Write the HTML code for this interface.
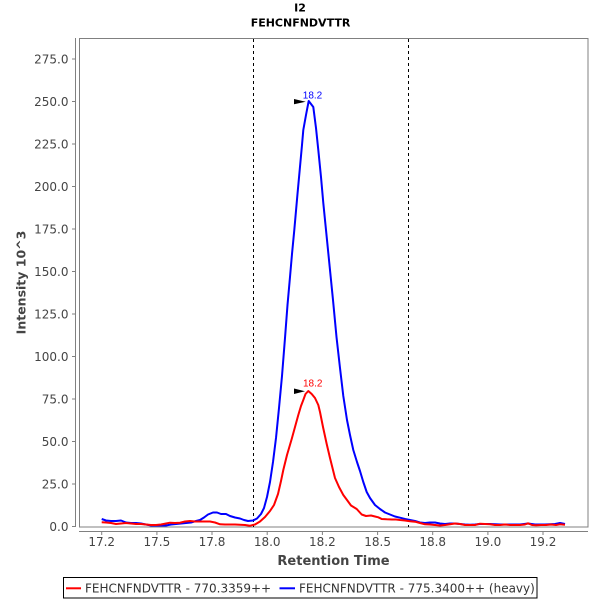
<!DOCTYPE html>
<html><head><meta charset="utf-8"><style>
html,body{margin:0;padding:0;background:#fff;}
svg{display:block;}
</style></head><body>
<svg width="600" height="600" viewBox="0 0 600 600" xmlns="http://www.w3.org/2000/svg">
<rect x="0" y="0" width="600" height="600" fill="#fff"/>
<text x="300" y="11.7" text-anchor="middle" font-family="DejaVu Sans, sans-serif" font-weight="bold" font-size="11" fill="#000">I2</text>
<text x="300.5" y="26.7" text-anchor="middle" font-family="DejaVu Sans, sans-serif" font-weight="bold" font-size="11" fill="#000">FEHCNFNDVTTR</text>
<rect x="79.5" y="38.5" width="508.5" height="488.5" fill="#fff" stroke="#808080" stroke-width="1"/>
<line x1="75.5" y1="38" x2="75.5" y2="527" stroke="#808080" stroke-width="1"/>
<line x1="79" y1="531.5" x2="588" y2="531.5" stroke="#808080" stroke-width="1"/>
<g stroke="#808080" stroke-width="1">
<line x1="72" y1="526.5" x2="75.5" y2="526.5"/>
<line x1="72" y1="484" x2="75.5" y2="484"/>
<line x1="72" y1="441.5" x2="75.5" y2="441.5"/>
<line x1="72" y1="399" x2="75.5" y2="399"/>
<line x1="72" y1="356.5" x2="75.5" y2="356.5"/>
<line x1="72" y1="314" x2="75.5" y2="314"/>
<line x1="72" y1="271.5" x2="75.5" y2="271.5"/>
<line x1="72" y1="229" x2="75.5" y2="229"/>
<line x1="72" y1="186.5" x2="75.5" y2="186.5"/>
<line x1="72" y1="144" x2="75.5" y2="144"/>
<line x1="72" y1="101.5" x2="75.5" y2="101.5"/>
<line x1="72" y1="59" x2="75.5" y2="59"/>
</g>
<g font-family="DejaVu Sans, sans-serif" font-size="12" fill="#444" text-anchor="end">
<text x="68.5" y="530.9">0.0</text>
<text x="68.5" y="488.4">25.0</text>
<text x="68.5" y="445.9">50.0</text>
<text x="68.5" y="403.4">75.0</text>
<text x="68.5" y="360.9">100.0</text>
<text x="68.5" y="318.4">125.0</text>
<text x="68.5" y="275.9">150.0</text>
<text x="68.5" y="233.4">175.0</text>
<text x="68.5" y="190.9">200.0</text>
<text x="68.5" y="148.4">225.0</text>
<text x="68.5" y="105.9">250.0</text>
<text x="68.5" y="63.4">275.0</text>
</g>
<g stroke="#808080" stroke-width="1">
<line x1="101.7" y1="531.5" x2="101.7" y2="535"/>
<line x1="156.9" y1="531.5" x2="156.9" y2="535"/>
<line x1="212" y1="531.5" x2="212" y2="535"/>
<line x1="267.2" y1="531.5" x2="267.2" y2="535"/>
<line x1="322.4" y1="531.5" x2="322.4" y2="535"/>
<line x1="377.6" y1="531.5" x2="377.6" y2="535"/>
<line x1="432.7" y1="531.5" x2="432.7" y2="535"/>
<line x1="487.9" y1="531.5" x2="487.9" y2="535"/>
<line x1="543" y1="531.5" x2="543" y2="535"/>
</g>
<g font-family="DejaVu Sans, sans-serif" font-size="12" fill="#444" text-anchor="middle">
<text x="101.7" y="546">17.2</text>
<text x="156.9" y="546">17.5</text>
<text x="212" y="546">17.8</text>
<text x="267.2" y="546">18.0</text>
<text x="322.4" y="546">18.2</text>
<text x="377.6" y="546">18.5</text>
<text x="432.7" y="546">18.8</text>
<text x="487.9" y="546">19.0</text>
<text x="543" y="546">19.2</text>
</g>
<text x="333.5" y="565" text-anchor="middle" font-family="DejaVu Sans, sans-serif" font-weight="bold" font-size="13" fill="#444">Retention Time</text>
<text transform="translate(25.5,282.5) rotate(-90)" x="0" y="0" text-anchor="middle" font-family="DejaVu Sans, sans-serif" font-weight="bold" font-size="12.5" fill="#444">Intensity 10^3</text>
<line x1="253.5" y1="39" x2="253.5" y2="527" stroke="#000" stroke-width="1" stroke-dasharray="3,3"/>
<line x1="408.5" y1="39" x2="408.5" y2="527" stroke="#000" stroke-width="1" stroke-dasharray="3,3"/>
<polyline fill="none" stroke="#0000ff" stroke-width="2" stroke-linejoin="round" points="101.7,519 106,520.5 111,521 116,521 121,520.5 126,522.5 131,523 136,523 141,523.5 146,524.5 151,525.5 156,525.5 161,525.5 166,525.5 171,524.5 176,524 181,523.5 186,523 191,522.5 196,521 200,520 204,517.5 208,514.5 213,512.5 217,512.5 221,514 226,514 230,516 235,517.5 240,518.5 244,520 248,521 253,520.5 257,518.5 261,514 264,508 267,497 270,482 273,462 276,438 279,408 282,376 285,338 287.5,305 290,277 292,254 294.3,230 297.4,195 299.7,170 302,145 303.3,130 306,115 308.7,101 313.3,107 316,128 318.3,150 321,177 323.3,203 325.5,225 328,250 330.7,277 333,300 336.5,337 340,368 343.3,396 347,420 350,435 353.3,450 357,462 360,471 363.3,482 366.7,492 370,498 375,505 380,509 385,512.5 390,514.5 395,516.5 400,517.7 405,519 410,520 415,521 420,522.5 425,523 430,522.5 435,522.5 440,523.5 445,524 450,523.5 455,523.5 460,524 465,524.5 470,524.7 475,524.5 480,524 490,524 500,524.5 510,524.5 520,524.5 528,523.5 535,524.5 545,524.5 555,524 560,523 565,524"/>
<polyline fill="none" stroke="#ff0000" stroke-width="2" stroke-linejoin="round" points="101.7,522.3 106,522.5 111,523 116,524 121,523.5 126,523 131,523.5 136,524 141,524 146,524.5 151,525 156,525 161,524.5 166,523.5 170,522.7 175,523 180,522.7 185,521.5 190,521 195,521.5 200,521.5 205,521.5 210,521.5 215,522.5 220,524.3 225,524.5 230,524.5 235,524.5 240,524.7 245,525 250,525.7 255,524.5 260,521.5 265,517 270,511 274,505 278,494 281,481 283.3,470 287,455 291.7,439 295,427 298.3,415 301,406 303.3,400 305.5,394 308.3,391 311.7,394 315,398 318.3,405 320,412 323,427 326.7,444 330,458 335,478 339,487 343.3,495 347,500 351,505.5 356.7,509 361.7,514.5 366,516 371,515.5 375,516.5 378.3,517.3 381.7,519 386.7,519.3 392,519.5 396,519.5 400,520 405,520.5 410,521.2 415,521.7 420,523 425,524.3 430,524.5 435,525 440,525.5 445,525 450,524.3 455,523.5 460,524 465,525 470,525 475,525 480,523.7 485,524 490,524.3 495,525 500,525 505,524.5 510,525 515,525 520,525 525,524.5 528,523.3 532,525 536,525.3 541,525 546,525 551,524.5 556,525 560,524.3 565,524.7"/>
<polygon points="294,99 305.7,101.7 294,104.3" fill="#000"/>
<text x="312.5" y="98.3" text-anchor="middle" font-family="Liberation Sans, sans-serif" font-size="10" fill="#0000ff">18.2</text>
<polygon points="294,388.5 305,391.3 294,394" fill="#000"/>
<text x="312.7" y="386.7" text-anchor="middle" font-family="Liberation Sans, sans-serif" font-size="10" fill="#ff0000">18.2</text>
<rect x="63.5" y="577.5" width="473.5" height="20.5" fill="#fff" stroke="#000" stroke-width="1"/>
<line x1="66" y1="588.3" x2="81" y2="588.3" stroke="#ff0000" stroke-width="2"/>
<text x="85" y="592.5" font-family="DejaVu Sans, sans-serif" font-size="12" fill="#333">FEHCNFNDVTTR - 770.3359++</text>
<line x1="279.5" y1="588.3" x2="295" y2="588.3" stroke="#0000ff" stroke-width="2"/>
<text x="299" y="592.5" font-family="DejaVu Sans, sans-serif" font-size="12" fill="#333">FEHCNFNDVTTR - 775.3400++ (heavy)</text>
</svg>
</body></html>
